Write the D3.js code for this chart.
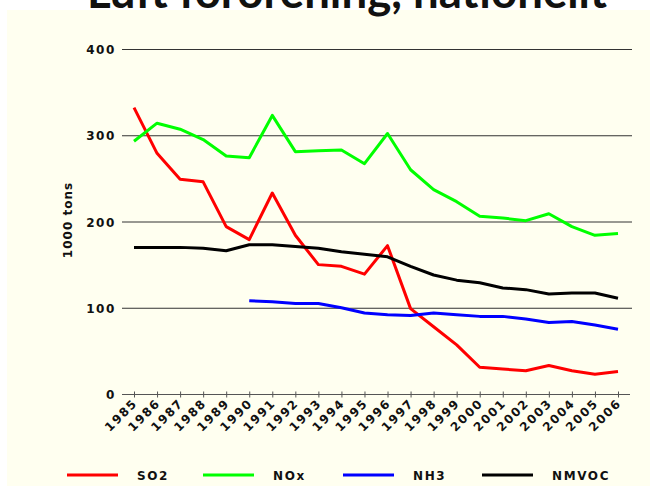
<!DOCTYPE html>
<html>
<head>
<meta charset="utf-8">
<script src="https://cdn.jsdelivr.net/npm/d3@7"></script>
<style>
  html, body { margin: 0; padding: 0; background: #ffffff; }
  svg { display: block; }
  .lbl { font-family: "DejaVu Sans", Verdana, sans-serif; font-weight: bold; font-size: 12px; letter-spacing: 1.6px; fill: #111; }
</style>
</head>
<body>
<svg id="chart" width="657" height="489"></svg>
<script>

// Chart data
const years = ["1985","1986","1987","1988","1989","1990","1991","1992","1993","1994","1995",
               "1996","1997","1998","1999","2000","2001","2002","2003","2004","2005","2006"];
const so2   = [332,279,249,246,194,179,233,184,150,148,139,172,99,78,57,31,29,27,33,27,23,26];
const nox   = [293,314,307,295,276,274,323,281,282,283,267,302,260,237,223,206,204,201,209,194,184,186];
const nh3   = [null,null,null,null,null,108,107,105,105,100,94,92,91,94,92,90,90,87,83,84,80,75];
const nmvoc = [170,170,170,169,166,173,173,171,169,165,162,159,148,138,132,129,123,121,116,117,117,111];
const yTicks = [0,100,200,300,400];
const seriesNames = ["SO2","NOx","NH3","NMVOC"];
const seriesColors = ["#ff0000","#00ff00","#0000ff","#000000"];

const svg = d3.select("#chart");

// Background panel
svg.append("rect")
	.attr("x", 7).attr("y", 10)
	.attr("width", 643).attr("height", 476)
	.attr("fill", "#fffff0");

// Title (cut off at top)
const title = svg.append("text")
	.attr("x", 347).attr("y", 8)
	.attr("text-anchor", "middle")
	.style("font-family", "Lato, 'Open Sans', sans-serif")
	.style("font-weight", "bold")
	.style("font-size", "44px")
	.attr("fill", "#111")
	.text("Luft förorening, nationellt");
const tw = title.node().getComputedTextLength();
title.style("font-size", (44 * 520 / tw) + "px");

// Scales
const x = d3.scalePoint().domain(years).range([134, 618]);
const y = d3.scaleLinear().domain([0, 400]).range([394, 49]);

// Grid lines
svg.append("g")
	.selectAll("line")
	.data(yTicks.filter(d => d > 0))
	.join("line")
	.attr("x1", 122).attr("x2", 632)
	.attr("y1", d => y(d) + 0.5).attr("y2", d => y(d) + 0.5)
	.attr("stroke", "#333")
	.attr("stroke-width", 1);

// Y labels
svg.append("g")
	.selectAll("text")
	.data(yTicks)
	.join("text")
	.attr("class", "lbl")
	.attr("x", 116)
	.attr("y", d => y(d) + 5)
	.attr("text-anchor", "end")
	.text(d => d);

// Y axis title
svg.append("text")
	.attr("class", "lbl")
	.attr("transform", "translate(72,220) rotate(-90)")
	.attr("text-anchor", "middle")
	.style("letter-spacing", "1px")
	.text("1000 tons");

// X axis
const xAxis = d3.axisBottom(x).tickSizeInner(3).tickSizeOuter(0).tickFormat("");
const gx = svg.append("g")
	.attr("transform", `translate(0,${y(0) + 0.5})`)
	.call(xAxis);
gx.select(".domain").remove();
gx.append("line")
	.attr("x1", 122).attr("x2", 630)
	.attr("stroke", "#555");
gx.selectAll(".tick line")
	.attr("y1", -3).attr("y2", 3)
	.attr("stroke", "#555");

// X labels, rotated
svg.append("g")
	.selectAll("text")
	.data(years)
	.join("text")
	.attr("class", "lbl")
	.attr("text-anchor", "end")
	.attr("transform", d => `translate(${x(d) + 4},${y(0) + 10}) rotate(-45)`)
	.text(d => d);

// Lines
const allSeries = [so2, nox, nh3, nmvoc];
const line = d3.line()
	.defined(d => d.v != null)
	.x(d => x(d.year))
	.y(d => y(d.v));

svg.append("g")
	.selectAll("path")
	.data(allSeries)
	.join("path")
	.attr("d", s => line(s.map((v, i) => ({year: years[i], v: v}))))
	.attr("fill", "none")
	.attr("stroke", (s, i) => seriesColors[i])
	.attr("stroke-width", 3)
	.attr("stroke-linejoin", "round");

// Legend
const legendX = [67, 203, 343, 482];
const legend = svg.append("g")
	.selectAll("g")
	.data(seriesNames)
	.join("g")
	.attr("transform", (d, i) => `translate(${legendX[i]},475)`);
legend.append("line")
	.attr("x1", 0).attr("x2", 51)
	.attr("stroke", (d, i) => seriesColors[i])
	.attr("stroke-width", 3);
legend.append("text")
	.attr("class", "lbl")
	.attr("x", 70)
	.attr("y", 5)
	.text(d => d);

</script>
</body>
</html>
